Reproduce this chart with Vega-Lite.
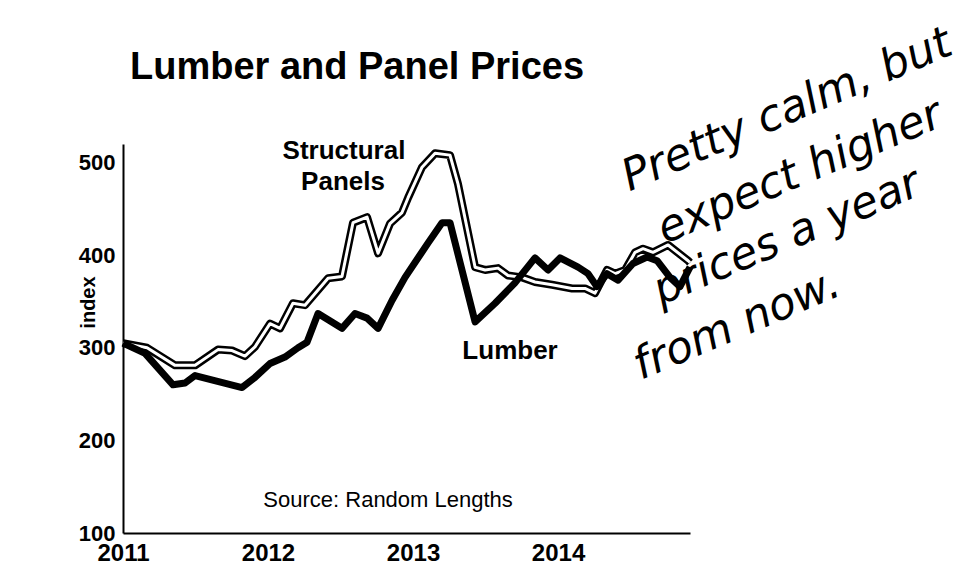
{
  "$schema": "https://vega.github.io/schema/vega-lite/v6.json",
  "autosize": "none",
  "width": 567,
  "height": 389,
  "padding": {"left": 123, "top": 144, "right": 290, "bottom": 44},
  "background": "white",
  "config": {"view": {"stroke": null}, "font": "Liberation Sans"},
  "title": {"text": "Lumber and Panel Prices", "anchor": "start", "frame": "group", "dx": 7, "offset": 0, "dy": 96, "baseline": "alphabetic", "fontSize": 38, "fontWeight": "bold", "font": "Liberation Sans", "color": "black"},
  "datasets": {
    "prices": [
      {"series": "Lumber", "year": 2011.0, "value": 305},
      {"series": "Lumber", "year": 2011.152, "value": 294},
      {"series": "Lumber", "year": 2011.345, "value": 260},
      {"series": "Lumber", "year": 2011.428, "value": 262},
      {"series": "Lumber", "year": 2011.497, "value": 270},
      {"series": "Lumber", "year": 2011.821, "value": 257},
      {"series": "Lumber", "year": 2011.91, "value": 268},
      {"series": "Lumber", "year": 2012.014, "value": 283},
      {"series": "Lumber", "year": 2012.117, "value": 290},
      {"series": "Lumber", "year": 2012.207, "value": 300},
      {"series": "Lumber", "year": 2012.269, "value": 306},
      {"series": "Lumber", "year": 2012.345, "value": 337},
      {"series": "Lumber", "year": 2012.51, "value": 321},
      {"series": "Lumber", "year": 2012.6, "value": 337},
      {"series": "Lumber", "year": 2012.683, "value": 332},
      {"series": "Lumber", "year": 2012.759, "value": 321},
      {"series": "Lumber", "year": 2012.855, "value": 351},
      {"series": "Lumber", "year": 2012.945, "value": 376},
      {"series": "Lumber", "year": 2013.103, "value": 413},
      {"series": "Lumber", "year": 2013.2, "value": 435},
      {"series": "Lumber", "year": 2013.255, "value": 435},
      {"series": "Lumber", "year": 2013.428, "value": 328},
      {"series": "Lumber", "year": 2013.566, "value": 348},
      {"series": "Lumber", "year": 2013.703, "value": 370},
      {"series": "Lumber", "year": 2013.841, "value": 397},
      {"series": "Lumber", "year": 2013.931, "value": 384},
      {"series": "Lumber", "year": 2014.014, "value": 397},
      {"series": "Lumber", "year": 2014.138, "value": 387},
      {"series": "Lumber", "year": 2014.207, "value": 380},
      {"series": "Lumber", "year": 2014.269, "value": 366},
      {"series": "Lumber", "year": 2014.338, "value": 380},
      {"series": "Lumber", "year": 2014.414, "value": 373},
      {"series": "Lumber", "year": 2014.517, "value": 391},
      {"series": "Lumber", "year": 2014.614, "value": 398},
      {"series": "Lumber", "year": 2014.683, "value": 394},
      {"series": "Lumber", "year": 2014.772, "value": 376},
      {"series": "Lumber", "year": 2014.841, "value": 366},
      {"series": "Lumber", "year": 2014.91, "value": 387},
      {"series": "Panels", "year": 2011.0, "value": 305},
      {"series": "Panels", "year": 2011.166, "value": 300},
      {"series": "Panels", "year": 2011.359, "value": 281},
      {"series": "Panels", "year": 2011.497, "value": 281},
      {"series": "Panels", "year": 2011.655, "value": 298},
      {"series": "Panels", "year": 2011.752, "value": 297},
      {"series": "Panels", "year": 2011.841, "value": 291},
      {"series": "Panels", "year": 2011.91, "value": 301},
      {"series": "Panels", "year": 2012.014, "value": 326},
      {"series": "Panels", "year": 2012.083, "value": 321},
      {"series": "Panels", "year": 2012.172, "value": 348},
      {"series": "Panels", "year": 2012.255, "value": 346},
      {"series": "Panels", "year": 2012.414, "value": 375},
      {"series": "Panels", "year": 2012.51, "value": 377},
      {"series": "Panels", "year": 2012.586, "value": 435},
      {"series": "Panels", "year": 2012.683, "value": 441},
      {"series": "Panels", "year": 2012.759, "value": 402},
      {"series": "Panels", "year": 2012.841, "value": 434},
      {"series": "Panels", "year": 2012.924, "value": 446},
      {"series": "Panels", "year": 2012.966, "value": 462},
      {"series": "Panels", "year": 2013.062, "value": 495},
      {"series": "Panels", "year": 2013.152, "value": 510},
      {"series": "Panels", "year": 2013.255, "value": 508},
      {"series": "Panels", "year": 2013.31, "value": 477},
      {"series": "Panels", "year": 2013.428, "value": 387},
      {"series": "Panels", "year": 2013.497, "value": 384},
      {"series": "Panels", "year": 2013.586, "value": 386},
      {"series": "Panels", "year": 2013.655, "value": 378},
      {"series": "Panels", "year": 2013.752, "value": 376},
      {"series": "Panels", "year": 2013.841, "value": 371},
      {"series": "Panels", "year": 2013.959, "value": 368},
      {"series": "Panels", "year": 2014.097, "value": 364},
      {"series": "Panels", "year": 2014.186, "value": 364},
      {"series": "Panels", "year": 2014.255, "value": 359},
      {"series": "Panels", "year": 2014.338, "value": 384},
      {"series": "Panels", "year": 2014.393, "value": 380},
      {"series": "Panels", "year": 2014.462, "value": 384},
      {"series": "Panels", "year": 2014.531, "value": 403},
      {"series": "Panels", "year": 2014.586, "value": 407},
      {"series": "Panels", "year": 2014.655, "value": 403},
      {"series": "Panels", "year": 2014.759, "value": 411},
      {"series": "Panels", "year": 2014.897, "value": 394},
      {"series": "Panels", "year": 2014.91, "value": 392}
    ],
    "yticks": [{"v": 100}, {"v": 200}, {"v": 300}, {"v": 400}, {"v": 500}],
    "xticks": [{"v": 2011}, {"v": 2012}, {"v": 2013}, {"v": 2014}],
    "labels": [
      {"t": "Structural", "year": 2012.524, "value": 512.9},
      {"t": "Panels", "year": 2012.517, "value": 479.5},
      {"t": "Lumber", "year": 2013.669, "value": 296.2}
    ],
    "source": [
      {"t": "Source: Random Lengths", "year": 2012.828, "value": 135.6}
    ],
    "notes": [
      {"t": "Pretty calm, but", "year": 2015.579, "value": 556.1},
      {"t": "expect higher", "year": 2015.669, "value": 489.2},
      {"t": "prices a year", "year": 2015.579, "value": 419.0},
      {"t": "from now.", "year": 2015.234, "value": 324.3}
    ]
  },
  "encoding": {
    "x": {"field": "year", "type": "quantitative", "scale": {"domain": [2011, 2014.91], "nice": false, "zero": false},
      "axis": {"values": [2011, 2012, 2013, 2014], "format": "d", "title": null, "grid": false, "ticks": false, "tickSize": 0, "domainColor": "black", "domainWidth": 2, "labelFont": "Liberation Sans", "labelFontWeight": "bold", "labelFontSize": 24, "labelColor": "black", "labelPadding": 8, "labelFlush": false}},
    "y": {"field": "value", "type": "quantitative", "scale": {"domain": [100, 520], "nice": false, "zero": false},
      "axis": {"values": [100, 200, 300, 400, 500], "title": "index", "titleFont": "Liberation Sans", "titleFontSize": 20, "titleFontWeight": "bold", "titleColor": "black", "titleAngle": -90, "titleX": -35, "titleY": 158, "titleAlign": "center", "titleBaseline": "middle", "grid": false, "ticks": false, "tickSize": 0, "domainColor": "black", "domainWidth": 2, "labelFont": "Liberation Sans", "labelFontWeight": "bold", "labelFontSize": 22, "labelColor": "black", "labelPadding": 8, "labelFlush": false}}
  },
  "layer": [
    {"data": {"name": "prices"}, "transform": [{"filter": "datum.series === 'Panels'"}],
      "mark": {"type": "line", "color": "black", "strokeWidth": 8, "strokeJoin": "round"}},
    {"data": {"name": "prices"}, "transform": [{"filter": "datum.series === 'Panels'"}],
      "mark": {"type": "line", "color": "white", "strokeWidth": 3, "strokeJoin": "round"}},
    {"data": {"name": "prices"}, "transform": [{"filter": "datum.series === 'Lumber'"}],
      "mark": {"type": "line", "color": "black", "strokeWidth": 7, "strokeJoin": "round"}},
    {"data": {"name": "yticks"}, "mark": {"type": "tick", "orient": "horizontal", "color": "black", "size": 16, "thickness": 2},
      "encoding": {"x": {"datum": 2011, "type": "quantitative"}, "y": {"field": "v", "type": "quantitative"}}},
    {"data": {"name": "xticks"}, "mark": {"type": "tick", "orient": "vertical", "color": "black", "size": 16, "thickness": 2},
      "encoding": {"x": {"field": "v", "type": "quantitative"}, "y": {"datum": 100, "type": "quantitative"}}},
    {"data": {"name": "labels"}, "mark": {"type": "text", "align": "center", "baseline": "middle", "font": "Liberation Sans", "fontWeight": "bold", "fontSize": 26, "color": "black"},
      "encoding": {"text": {"field": "t"}}},
    {"data": {"name": "source"}, "mark": {"type": "text", "align": "center", "baseline": "middle", "font": "Liberation Sans", "fontSize": 22, "color": "black"},
      "encoding": {"text": {"field": "t"}}},
    {"data": {"name": "notes"}, "mark": {"type": "text", "align": "center", "baseline": "middle", "font": "DejaVu Sans", "fontStyle": "italic", "fontSize": 44, "angle": -23, "color": "black"},
      "encoding": {"text": {"field": "t"}}}
  ]
}
